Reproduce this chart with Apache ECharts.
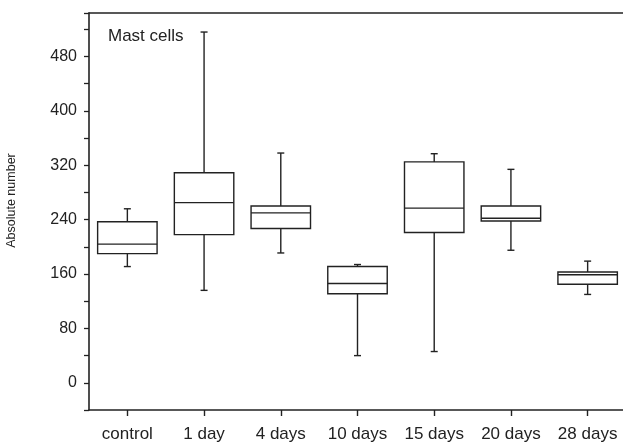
<!DOCTYPE html>
<html>
<head>
<meta charset="utf-8">
<script src="https://cdn.jsdelivr.net/npm/echarts@6/dist/echarts.min.js"></script>
<style>
html,body{margin:0;padding:0;background:#fff;}
#chart{width:623px;height:444px;}
</style>
</head>
<body>
<div id="chart"></div>
<script>
// Data
var categories = ['control', '1 day', '4 days', '10 days', '15 days', '20 days', '28 days'];
var mins    = [171, 136, 191,  40,  46, 195, 130];
var q1s     = [190, 218, 227, 131, 221, 238, 145];
var medians = [204, 265, 250, 146, 257, 242, 159];
var q3s     = [237, 309, 260, 171, 325, 260, 163];
var maxs    = [256, 516, 338, 174, 337, 314, 179];
var yTickLabels = [0, 80, 160, 240, 320, 400, 480];

var seriesData = categories.map(function (c, i) {
  return [i, mins[i], q1s[i], medians[i], q3s[i], maxs[i]];
});

var ink = '#222';
var font = 'Liberation Sans, Arial, sans-serif';

var chart = echarts.init(document.getElementById('chart'), null, {renderer: 'canvas'});

chart.setOption({
  animation: false,
  backgroundColor: '#fff',
  title: {
    text: 'Mast cells',
    left: 108, top: 28, padding: 0,
    textStyle: {fontFamily: font, fontSize: 17, fontWeight: 'normal', color: ink}
  },
  grid: {left: 89, top: 13, width: 537, height: 397, containLabel: false, outerBoundsMode: 'none'},
  xAxis: [{
    type: 'category',
    data: categories,
    boundaryGap: true,
    axisLine: {onZero: false, lineStyle: {color: ink, width: 1.6}},
    axisTick: {show: true, alignWithLabel: true, length: 6, lineStyle: {color: ink, width: 1.4}},
    axisLabel: {fontFamily: font, fontSize: 17, color: ink, margin: 16, interval: 0},
    splitLine: {show: false}
  }, {
    type: 'category',
    position: 'top',
    data: categories,
    axisLine: {show: true, onZero: false, lineStyle: {color: ink, width: 1.6}},
    axisTick: {show: false},
    axisLabel: {show: false},
    splitLine: {show: false}
  }],
  yAxis: {
    type: 'value',
    min: -40, max: 544, interval: 40,
    name: 'Absolute number',
    nameLocation: 'middle',
    nameRotate: 90,
    nameGap: 71,
    nameTextStyle: {fontFamily: font, fontSize: 12.5, color: ink, padding: [0, 0, 0, 22]},
    axisLine: {show: true, onZero: false, lineStyle: {color: ink, width: 1.6}},
    axisTick: {show: true, length: 5, lineStyle: {color: ink, width: 1.3}},
    axisLabel: {
      fontFamily: font, fontSize: 16, color: ink, margin: 12,
      formatter: function (v) { return yTickLabels.indexOf(v) >= 0 ? String(v) : ''; }
    },
    splitLine: {show: false}
  },
  series: [{
    type: 'custom',
    data: seriesData,
    encode: {x: 0, y: [1, 2, 3, 4, 5]},
    renderItem: function (params, api) {
      var idx = api.value(0);
      var pMin = api.coord([idx, api.value(1)]);
      var pQ1 = api.coord([idx, api.value(2)]);
      var pMed = api.coord([idx, api.value(3)]);
      var pQ3 = api.coord([idx, api.value(4)]);
      var pMax = api.coord([idx, api.value(5)]);
      var cx = pMed[0];
      var bw = api.size([1, 0])[0] * 0.775;
      var cap = 3.5;
      var st = {stroke: ink, lineWidth: 1.4, fill: null};
      return {
        type: 'group',
        children: [
          {type: 'rect', shape: {x: cx - bw / 2, y: pQ3[1], width: bw, height: pQ1[1] - pQ3[1]}, style: {stroke: ink, lineWidth: 1.4, fill: 'none'}},
          {type: 'line', shape: {x1: cx - bw / 2, y1: pMed[1], x2: cx + bw / 2, y2: pMed[1]}, style: st},
          {type: 'line', shape: {x1: cx, y1: pQ3[1], x2: cx, y2: pMax[1]}, style: st},
          {type: 'line', shape: {x1: cx, y1: pQ1[1], x2: cx, y2: pMin[1]}, style: st},
          {type: 'line', shape: {x1: cx - cap, y1: pMax[1], x2: cx + cap, y2: pMax[1]}, style: st},
          {type: 'line', shape: {x1: cx - cap, y1: pMin[1], x2: cx + cap, y2: pMin[1]}, style: st}
        ]
      };
    }
  }]
});
</script>
</body>
</html>
